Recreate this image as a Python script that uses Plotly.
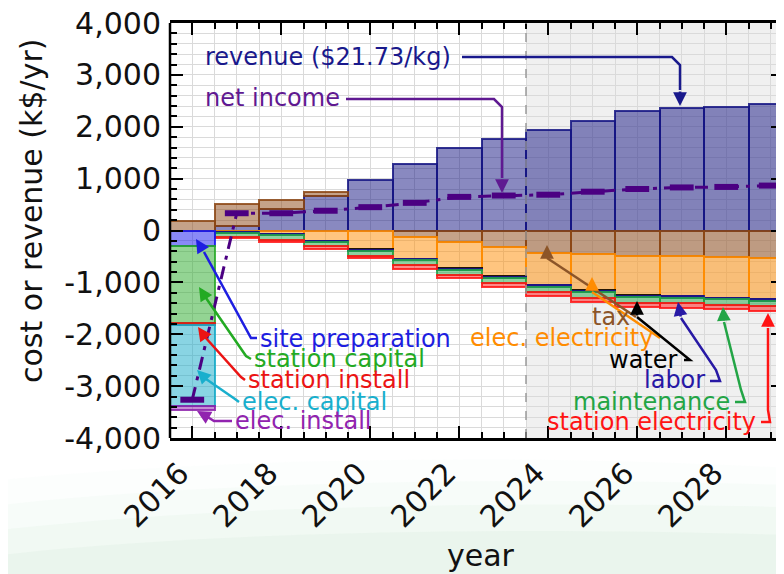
import plotly.graph_objects as go

# ---------------- data (k$/yr) ----------------
years = list(range(2016, 2030))
revenue = [0, 92, 414, 670, 980, 1273, 1594, 1755, 1934, 2108, 2300, 2352, 2383, 2435]
tax = [190, 418, 173, 78, 0, -130, -225, -321, -430, -450, -494, -494, -514, -533]
elec_electricity = [0, 20, 60, 196, 366, 415, 500, 560, 620, 706, 757, 770, 780, 784]
water = [0, 5, 5, 5, 8, 8, 8, 8, 8, 8, 8, 8, 8, 8]
labor = [0, 25, 25, 25, 25, 25, 25, 25, 25, 25, 25, 25, 25, 25]
maintenance = [0, 70, 85, 80, 85, 95, 95, 100, 100, 105, 105, 105, 105, 105]
station_electricity = [0, 25, 45, 50, 55, 60, 65, 70, 75, 80, 85, 90, 90, 92]
site_preparation = [290, 0, 0, 0, 0, 0, 0, 0, 0, 0, 0, 0, 0, 0]
station_capital = [1490, 0, 0, 0, 0, 0, 0, 0, 0, 0, 0, 0, 0, 0]
station_install = [40, 0, 0, 0, 0, 0, 0, 0, 0, 0, 0, 0, 0, 0]
elec_capital = [1555, 0, 0, 0, 0, 0, 0, 0, 0, 0, 0, 0, 0, 0]
elec_install = [77, 0, 0, 0, 0, 0, 0, 0, 0, 0, 0, 0, 0, 0]
net_income = [-3262, 333, 333, 381, 450, 533, 648, 674, 690, 748, 800, 830, 840, 866]

x_tick_vals = [2016, 2018, 2020, 2022, 2024, 2026, 2028]
x_tick_text = ["2016", "2018", "2020", "2022", "2024", "2026", "2028"]
y_tick_vals = [4000, 3000, 2000, 1000, 0, -1000, -2000, -3000, -4000]
y_tick_text = ["4,000", "3,000", "2,000", "1,000", "0", "-1,000", "-2,000", "-3,000", "-4,000"]
future_start = 2023.5

# ---------------- geometry ----------------
OFF = 8                      # default page body margin
W, H = 784 - OFF, 574 - OFF
PLOT_L, PLOT_T, PLOT_B = 170, 23, 438   # plot area in page pixels
L, T, B = PLOT_L - OFF, PLOT_T - OFF, 574 - PLOT_B
PW = W - L
PH = H - T - B
X_START = 2015.5
PX_PER_YEAR = 44.5
x_range = [X_START, X_START + PW / PX_PER_YEAR]
y_range = [-4000, 4000]
FONT = "DejaVu Sans"


def xd(px):
    return X_START + (px - PLOT_L) / PX_PER_YEAR


def yd(py):
    return y_range[1] - (py - PLOT_T) * (y_range[1] - y_range[0]) / PH


def xp(px):
    return (px - PLOT_L) / PW


def yp(py):
    return (PLOT_B - py) / PH


def nz(vals, sign=1):
    return [sign * v if v != 0 else None for v in vals]


def rgba(c, a):
    return "rgba(%d,%d,%d,%s)" % (c[0], c[1], c[2], a)


C_REV = (20, 20, 130)
C_TAX = (139, 69, 19)
C_ORG = (255, 140, 0)
C_WAT = (0, 0, 0)
C_LAB = (30, 20, 150)
C_MNT = (30, 165, 70)
C_SEL = (255, 20, 20)
C_SITE = (20, 20, 240)
C_SCAP = (40, 170, 40)
C_SINS = (230, 20, 20)
C_ECAP = (20, 170, 200)
C_EINS = (140, 30, 170)
C_NET = (75, 0, 130)

series = [
    ("revenue", nz(revenue), C_REV),
    ("tax", nz(tax), C_TAX),
    ("elec. electricity", nz(elec_electricity, -1), C_ORG),
    ("water", nz(water, -1), C_WAT),
    ("labor", nz(labor, -1), C_LAB),
    ("maintenance", nz(maintenance, -1), C_MNT),
    ("station electricity", nz(station_electricity, -1), C_SEL),
    ("site preparation", nz(site_preparation, -1), C_SITE),
    ("station capital", nz(station_capital, -1), C_SCAP),
    ("station install", nz(station_install, -1), C_SINS),
    ("elec. capital", nz(elec_capital, -1), C_ECAP),
    ("elec. install", nz(elec_install, -1), C_EINS),
]

fig = go.Figure()
for name, vals, col in series:
    fig.add_trace(go.Bar(
        x=years, y=vals, width=1, name=name, showlegend=False,
        marker=dict(color=rgba(col, 0.5), line=dict(color=rgba(col, 0.85), width=2)),
    ))

fig.add_trace(go.Scatter(
    x=years, y=net_income, mode="lines+markers", name="net income", showlegend=False,
    line=dict(color=rgba(C_NET, 1), width=3, dash="13px,7px,4px,7px"),
    marker=dict(symbol="line-ew", size=17, line=dict(width=6, color=rgba(C_NET, 1))),
))

shapes = []
# faint slide background swirl (layered translucent bands)
bands = [
    (480, 455, 468, 0.08, (215, 238, 228)),
    (505, 478, 485, 0.10, (205, 233, 215)),
    (530, 502, 507, 0.12, (198, 230, 208)),
    (555, 528, 535, 0.13, (190, 226, 202)),
]
for y_left, y_mid, y_right, a, col in bands:
    shapes.append(dict(type="path", xref="paper", yref="paper", layer="below",
                       path="M %f,%f L %f,%f C %f,%f %f,%f %f,%f L %f,%f Z" % (
                           xp(0), yp(580), xp(0), yp(y_left), xp(250), yp(y_mid), xp(550), yp(y_mid),
                           xp(790), yp(y_right), xp(790), yp(580)),
                       fillcolor=rgba(col, a), line=dict(width=0)))
# future region
shapes.append(dict(type="rect", xref="x", yref="paper", x0=future_start, x1=x_range[1], y0=0, y1=1,
                   fillcolor="#f0f0f0", line=dict(width=0), layer="below"))
shapes.append(dict(type="line", xref="x", yref="paper", x0=future_start, x1=future_start, y0=0, y1=1,
                   line=dict(color="#9a9a9a", width=1.5, dash="dash"), layer="above"))
# left axis line
shapes.append(dict(type="line", xref="paper", yref="paper", x0=0, x1=0, y0=0, y1=1,
                   line=dict(color="black", width=2.5), layer="above"))

# labels: text, color, anchor, text pos (px), connector path points (px), arrow tip (px)
labels = [
    ("revenue ($21.73/kg)", (25, 25, 140), "left", (203, 57), [(462, 57), (672, 57), (680, 65), (680, 90)], (680, 106)),
    ("net income", (95, 25, 145), "left", (203, 98), [(346, 99), (494, 99), (502, 107), (502, 178)], (502, 193)),
    ("site preparation", (30, 30, 225), "left", (258, 339), [(257, 338), (251, 338), (204, 252)], (196, 239)),
    ("station capital", (35, 170, 35), "left", (252, 359), [(251, 359), (246, 356), (206, 298)], (199, 287)),
    ("station install", (235, 20, 20), "left", (246, 380), [(245, 380), (241, 377), (205, 337)], (198, 327)),
    ("elec. capital", (25, 175, 205), "left", (240, 402), [(239, 402), (235, 399), (206, 379)], (197, 370)),
    ("elec. install", (145, 35, 175), "left", (233, 421), [(232, 421), (214, 421), (206, 416)], (197, 411)),
    ("tax", (140, 85, 40), "right", (632, 317), [(636, 317), (547, 258)], (547, 245)),
    ("elec. electricity", (255, 140, 0), "right", (655, 338), [(660, 338), (592, 292)], (592, 277)),
    ("water", (0, 0, 0), "right", (680, 360), [(684, 360), (690, 360), (637, 317)], (637, 301)),
    ("labor", (40, 25, 165), "right", (707, 380), [(710, 381), (720, 381), (716, 370), (681, 318)], (678, 302)),
    ("maintenance", (35, 165, 70), "right", (732, 402), [(735, 402), (745, 402), (741, 390), (724, 322)], (723, 307)),
    ("station electricity", (255, 20, 20), "right", (758, 422), [(761, 422), (770, 422), (768, 410), (768, 328)], (768, 313)),
]

annotations = []
for text, col, anchor, (tx, ty), pts, (ax_, ay_) in labels:
    c = rgba(col, 1)
    annotations.append(dict(text=text, x=xd(tx), y=yd(ty), xref="x", yref="y", showarrow=False,
                            xanchor=anchor, yanchor="middle", font=dict(family=FONT, size=24, color=c)))
    path = "M %f,%f" % (xd(pts[0][0]), yd(pts[0][1]))
    for (px_, py_) in pts[1:]:
        path += " L %f,%f" % (xd(px_), yd(py_))
    shapes.append(dict(type="path", xref="x", yref="y", path=path, line=dict(color=c, width=2.5), layer="above"))
    lx, ly = pts[-1]
    annotations.append(dict(text="", x=xd(ax_), y=yd(ay_), xref="x", yref="y", showarrow=True,
                            ax=lx - ax_, ay=ly - ay_, axref="pixel", ayref="pixel",
                            arrowhead=2, arrowsize=1.1, arrowwidth=2.5, arrowcolor=c, standoff=0))

# axis titles
annotations.append(dict(text="cost or revenue (k$/yr)", textangle=-90, xref="paper", yref="paper",
                        x=xp(31), y=yp(211), showarrow=False, xanchor="center", yanchor="middle",
                        font=dict(family=FONT, size=30, color="#111")))
annotations.append(dict(text="year", xref="paper", yref="paper", x=xp(481), y=yp(555), showarrow=False,
                        xanchor="center", yanchor="middle", font=dict(family=FONT, size=30, color="#111")))

fig.update_layout(
    width=W, height=H, margin=dict(l=L, r=0, t=T, b=B, pad=0),
    paper_bgcolor="white", plot_bgcolor="white",
    barmode="relative", bargap=0,
    shapes=shapes, annotations=annotations,
    font=dict(family=FONT, size=28, color="#111"),
    showlegend=False,
)
fig.update_xaxes(
    range=x_range, tickvals=x_tick_vals, ticktext=x_tick_text, tickangle=-45, automargin=False,
    ticks="inside", ticklen=12, tickwidth=2, tickcolor="black",
    showline=True, linewidth=2.5, linecolor="black", mirror="ticks",
    showgrid=True, gridcolor="#dadada", gridwidth=1, zeroline=False,
    tickfont=dict(family=FONT, size=30, color="#111"), ticklabelstandoff=3, ticklabelshift=-12,
    ticklabeloverflow="allow",
    minor=dict(tick0=2015.5, dtick=0.5, ticks="inside", ticklen=6, tickwidth=1.5, tickcolor="black",
               showgrid=True, gridcolor="#dadada", gridwidth=1),
)
fig.update_yaxes(
    range=y_range, tickvals=y_tick_vals, ticktext=y_tick_text, automargin=False,
    ticks="inside", ticklen=13, tickwidth=2, tickcolor="black",
    showline=False, mirror="ticks",
    showgrid=True, gridcolor="#dadada", gridwidth=1, zeroline=False,
    tickfont=dict(family=FONT, size=30, color="#111"), ticklabelstandoff=8,
    ticklabeloverflow="allow",
    minor=dict(tick0=0, dtick=200, ticks="inside", ticklen=7, tickwidth=1.5, tickcolor="black",
               showgrid=True, gridcolor="#dadada", gridwidth=1),
)

fig.write_html("out.html")
